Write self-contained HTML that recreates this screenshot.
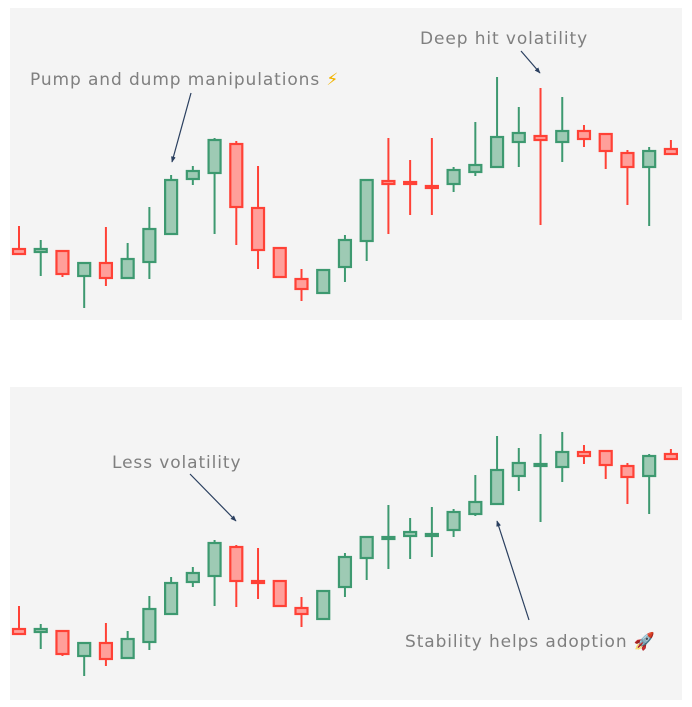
<!DOCTYPE html>
<html><head><meta charset="utf-8"><style>
html,body{margin:0;padding:0;background:#fff;}
svg{display:block;font-family:"DejaVu Sans","Liberation Sans",sans-serif;}
</style></head><body>
<svg id="chart" width="692" height="707" viewBox="0 0 692 707" xmlns="http://www.w3.org/2000/svg">
<defs><marker id="ah" viewBox="0 0 10 10" refX="9" refY="5" markerWidth="5" markerHeight="5" orient="auto"><path d="M0,1 L10,5 L0,9 z" fill="#2a3f5f"/></marker></defs>
<rect x="10" y="8" width="672" height="312" fill="#f4f4f4"/>
<rect x="10" y="387" width="672" height="313" fill="#f4f4f4"/>
<g id="top"></g>
<g id="bot"></g>
<g fill="#7f7f7f" font-size="17" letter-spacing="0.9">
<text x="30" y="85">Pump and dump manipulations <tspan fill="#f2b400">⚡</tspan></text>
<line x1="191" y1="93" x2="172" y2="162" stroke="#2a3f5f" stroke-width="1.2" marker-end="url(#ah)"/>
<text x="420" y="44">Deep hit volatility</text>
<line x1="521" y1="51" x2="540" y2="73" stroke="#2a3f5f" stroke-width="1.2" marker-end="url(#ah)"/>
<text x="112" y="468">Less volatility</text>
<line x1="190" y1="474" x2="236" y2="521" stroke="#2a3f5f" stroke-width="1.2" marker-end="url(#ah)"/>
<text x="405" y="647">Stability helps adoption 🚀</text>
<line x1="529" y1="620" x2="497" y2="521" stroke="#2a3f5f" stroke-width="1.2" marker-end="url(#ah)"/>
</g>
</svg>
<script>
const topOpen=[91,88,89,64,77,62,78,106,161,167,196,132,92,61,47,73,99,159,158,154,156,168,173,198,204,198,209,206,187,173,191];
const topClose=[86,91,66,77,62,81,111,160,169,200,133,90,63,51,70,100,160,156,156,152,170,175,203,207,200,209,201,189,173,189,186];
const topHigh=[114,100,89,77,113,97,133,165,174,202,199,174,92,71,70,105,160,202,180,202,173,218,263,233,252,243,215,206,190,193,200];
const topLow=[86,64,63,32,54,62,61,105,155,106,95,71,63,39,46,58,79,106,125,125,148,164,172,173,115,178,193,171,135,114,186];
const botOpen=[91,88,89,64,77,62,78,106,138,144,173,139,139,112,101,133,162,181,184,184,190,206,216,244,254,253,268,269,254,244,266];
const botClose=[86,91,66,77,61,81,111,137,147,177,139,137,114,106,129,163,183,183,188,186,208,218,250,257,256,268,264,255,243,264,261];
const botHigh=[114,96,89,78,97,89,124,143,153,180,175,172,140,123,129,167,183,215,202,213,211,245,284,272,286,288,275,269,257,266,271];
const botLow=[86,71,64,44,54,62,70,105,133,114,113,121,114,93,100,123,140,151,161,163,183,204,215,229,198,238,256,241,216,206,261];
const xStart=19, xStep=21.73;
function xScale(i){return xStart+i*xStep;}
function yTop(v){return 340-v;}
function yBot(v){return 720-v;}
const NS='http://www.w3.org/2000/svg';
function draw(gid,O,C,H,L,ys,prefix){
  const g=document.getElementById(gid);
  for(let i=0;i<O.length;i++){
    const up=C[i]>=O[i];
    const col=up?'#3d9970':'#ff4136';
    const fill=up?'#9ecab4':'#ff9f9a';
    const x=xScale(i);
    const w=document.createElementNS(NS,'line');
    
    
    w.setAttribute('x1',x);w.setAttribute('x2',x);
    w.setAttribute('y1',ys(H[i]));w.setAttribute('y2',ys(L[i]));
    w.setAttribute('stroke',col);w.setAttribute('stroke-width','2');
    g.appendChild(w);
    const y1=ys(Math.max(O[i],C[i])), y2=ys(Math.min(O[i],C[i]));
    const r=document.createElementNS(NS,'rect');
    
    
    r.setAttribute('x',x-6);r.setAttribute('width',12);
    r.setAttribute('y',y1);r.setAttribute('height',Math.max(y2-y1,2));
    r.setAttribute('fill',fill);r.setAttribute('stroke',col);r.setAttribute('stroke-width','2.2');
    g.appendChild(r);
  }
}
draw('top',topOpen,topClose,topHigh,topLow,yTop,'top');
draw('bot',botOpen,botClose,botHigh,botLow,yBot,'bottom');
</script>
</body></html>
